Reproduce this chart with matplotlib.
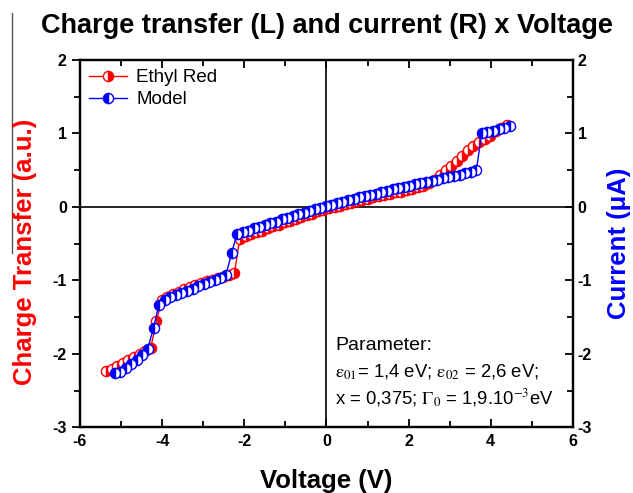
import matplotlib
matplotlib.use("Agg")
import matplotlib.pyplot as plt
from matplotlib.lines import Line2D
from matplotlib.ticker import MultipleLocator

plt.rcParams['font.family'] = ['Liberation Sans', 'DejaVu Sans']
plt.rcParams['mathtext.fontset'] = 'stix'
plt.rcParams['axes.unicode_minus'] = False

# Ethyl Red (measured charge transfer)
red_v = [-5.36, -5.22, -5.09, -4.95, -4.82, -4.68, -4.55, -4.41, -4.28, -4.14,
         -4.01, -3.87, -3.73, -3.60, -3.46, -3.33, -3.19, -3.06, -2.92, -2.79,
         -2.65, -2.52, -2.38, -2.24, -2.11, -1.97, -1.84, -1.70, -1.57, -1.43,
         -1.30, -1.16, -1.02, -0.89, -0.75, -0.62, -0.48, -0.35, -0.21, -0.08,
         0.06, 0.20, 0.33, 0.47, 0.60, 0.74, 0.87, 1.01, 1.14, 1.28,
         1.41, 1.55, 1.69, 1.82, 1.96, 2.09, 2.23, 2.36, 2.50, 2.63,
         2.77, 2.90, 3.04, 3.17, 3.31, 3.45, 3.58, 3.72, 3.85, 3.99,
         4.12, 4.26, 4.39]
red_q = [-2.23, -2.20, -2.16, -2.12, -2.08, -2.04, -2.00, -1.96, -1.92, -1.55,
         -1.27, -1.22, -1.18, -1.15, -1.12, -1.09, -1.06, -1.04, -1.01, -0.99,
         -0.97, -0.95, -0.93, -0.90, -0.43, -0.40, -0.37, -0.34, -0.32, -0.29,
         -0.26, -0.24, -0.21, -0.19, -0.16, -0.14, -0.11, -0.09, -0.06, -0.04,
         -0.02, 0.00, 0.02, 0.04, 0.06, 0.08, 0.10, 0.11, 0.13, 0.15,
         0.16, 0.18, 0.20, 0.21, 0.23, 0.25, 0.27, 0.29, 0.32, 0.37,
         0.44, 0.50, 0.56, 0.62, 0.70, 0.77, 0.83, 0.89, 0.93, 0.97,
         1.03, 1.08, 1.12]

# Model (current)
model_v = [-5.16, -5.02, -4.89, -4.75, -4.62, -4.48, -4.35, -4.21, -4.08, -3.94,
           -3.80, -3.67, -3.53, -3.40, -3.26, -3.13, -2.99, -2.86, -2.72, -2.58,
           -2.45, -2.31, -2.18, -2.04, -1.91, -1.77, -1.64, -1.50, -1.37, -1.23,
           -1.09, -0.96, -0.82, -0.69, -0.55, -0.42, -0.28, -0.15, -0.01, 0.12,
           0.26, 0.39, 0.53, 0.67, 0.80, 0.94, 1.07, 1.21, 1.34, 1.48,
           1.62, 1.75, 1.89, 2.02, 2.16, 2.29, 2.43, 2.56, 2.70, 2.83,
           2.97, 3.11, 3.24, 3.38, 3.51, 3.65, 3.78, 3.92, 4.05, 4.19,
           4.32, 4.46]
model_i = [-2.26, -2.24, -2.19, -2.14, -2.08, -2.02, -1.93, -1.64, -1.33, -1.27,
           -1.23, -1.20, -1.17, -1.14, -1.11, -1.08, -1.05, -1.02, -0.99, -0.96,
           -0.93, -0.63, -0.37, -0.34, -0.32, -0.29, -0.27, -0.25, -0.22, -0.20,
           -0.17, -0.15, -0.12, -0.10, -0.08, -0.06, -0.03, -0.01, 0.01, 0.03,
           0.05, 0.07, 0.09, 0.11, 0.13, 0.15, 0.16, 0.18, 0.20, 0.22,
           0.24, 0.26, 0.27, 0.29, 0.31, 0.32, 0.34, 0.36, 0.37, 0.39,
           0.41, 0.42, 0.44, 0.46, 0.48, 0.50, 1.00, 1.02, 1.04, 1.06,
           1.08, 1.10]

fig = plt.figure(figsize=(6.33, 4.93), dpi=100)
ax = fig.add_axes([0.1264, 0.1329, 0.7786, 0.7454])

ax.axhline(0, color='black', lw=1.2, zorder=1)
ax.axvline(0, color='black', lw=1.2, zorder=1)

ax.plot(red_v, red_q, '-o', color='red', lw=1, ms=7.3, mew=1,
        fillstyle='right', markerfacecoloralt='white', label='Ethyl Red', zorder=3)
ax.plot(model_v, model_i, '-o', color='blue', lw=1, ms=7.3, mew=1,
        fillstyle='left', markerfacecoloralt='white', label='Model', zorder=4)

ax.set_xlim(-6, 6)
ax.set_ylim(-3, 2)
ax.xaxis.set_major_locator(MultipleLocator(2))
ax.xaxis.set_minor_locator(MultipleLocator(1))
ax.yaxis.set_major_locator(MultipleLocator(1))
ax.yaxis.set_minor_locator(MultipleLocator(0.5))
ax.tick_params(axis='x', which='both', direction='in', top=True, width=1.3)
ax.tick_params(axis='x', which='major', length=6, labelsize=11.5, pad=5)
ax.tick_params(axis='x', which='minor', length=4)
ax.tick_params(axis='y', which='both', direction='out', width=1.3)
ax.tick_params(axis='y', which='major', length=6, labelsize=11.5)
ax.tick_params(axis='y', which='minor', length=4)
for lab in ax.get_xticklabels() + ax.get_yticklabels():
    lab.set_fontweight('bold')
for sp in ax.spines.values():
    sp.set_linewidth(1.6)

ax2 = ax.twinx()
ax2.set_ylim(-3, 2)
ax2.yaxis.set_major_locator(MultipleLocator(1))
ax2.yaxis.set_minor_locator(MultipleLocator(0.5))
ax2.tick_params(axis='y', which='both', direction='in', width=1.3)
ax2.tick_params(axis='y', which='major', length=6, labelsize=11.5)
ax2.tick_params(axis='y', which='minor', length=4)
for lab in ax2.get_yticklabels():
    lab.set_fontweight('bold')
for sp in ax2.spines.values():
    sp.set_linewidth(1.6)

leg = ax.legend(loc='upper left', frameon=False, fontsize=13.5, handlelength=2.0,
                borderaxespad=0.2, labelspacing=0.25, handletextpad=0.5,
                borderpad=0.3)

ax.text(0.21, -1.89, 'Parameter:', fontsize=14, va='center')
ax.text(0.21, -2.24,
        r'$\mathrm{\varepsilon}_{01}$= 1,4 eV; $\mathrm{\varepsilon}_{02}$ = 2,6 eV;',
        fontsize=13.3, va='center')
ax.text(0.21, -2.60, r'x = 0,375; $\Gamma_0$ = 1,9.10$^{-3}$eV',
        fontsize=13.3, va='center')

fig.text(0.516, 0.948, 'Charge transfer (L) and current (R) x Voltage',
         ha='center', va='center', fontsize=19.5, fontweight='bold')
fig.text(0.516, 0.024, 'Voltage (V)', ha='center', va='center',
         fontsize=18.5, fontweight='bold')
fig.text(0.04, 0.49, 'Charge Transfer (a.u.)', rotation=90, ha='center',
         va='center', fontsize=18.5, fontweight='bold', color='red')
fig.text(0.978, 0.507, 'Current (\u03bcA)', rotation=90, ha='center',
         va='center', fontsize=18.5, fontweight='bold', color='blue')

# stray vertical rule at the far left of the original image
fig.add_artist(Line2D([12 / 633, 12 / 633], [1 - 13 / 493, 1 - 253 / 493],
                      color='#555555', lw=1))

fig.savefig('out.png', dpi=100)
